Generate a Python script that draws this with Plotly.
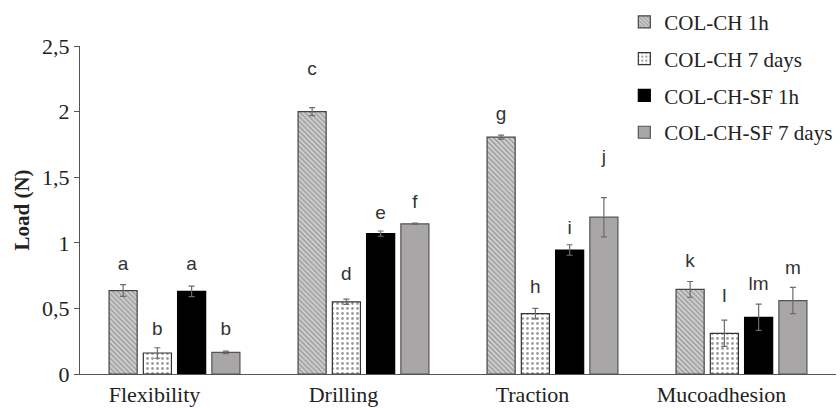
import plotly.graph_objects as go

categories = ["Flexibility", "Drilling", "Traction", "Mucoadhesion"]
series_names = ["COL-CH 1h", "COL-CH 7 days", "COL-CH-SF 1h", "COL-CH-SF 7 days"]

col_ch_1h = [0.636, 2.00, 1.805, 0.645]
col_ch_7d = [0.160, 0.55, 0.460, 0.310]
col_ch_sf_1h = [0.630, 1.07, 0.945, 0.432]
col_ch_sf_7d = [0.165, 1.145, 1.195, 0.560]

err_col_ch_1h = [0.045, 0.03, 0.015, 0.06]
err_col_ch_7d = [0.040, 0.02, 0.040, 0.10]
err_col_ch_sf_1h = [0.040, 0.02, 0.040, 0.10]
err_col_ch_sf_7d = [0.010, 0.005, 0.150, 0.10]

letters_col_ch_1h = ["a", "c", "g", "k"]
letters_col_ch_7d = ["b", "d", "h", "l"]
letters_col_ch_sf_1h = ["a", "e", "i", "lm"]
letters_col_ch_sf_7d = ["b", "f", "j", "m"]

letter_y_col_ch_1h = [0.826, 2.318, 1.97, 0.85]
letter_y_col_ch_7d = [0.333, 0.75, 0.65, 0.586]
letter_y_col_ch_sf_1h = [0.826, 1.22, 1.106, 0.674]
letter_y_col_ch_sf_7d = [0.333, 1.303, 1.644, 0.80]

values = [col_ch_1h, col_ch_7d, col_ch_sf_1h, col_ch_sf_7d]
errors = [err_col_ch_1h, err_col_ch_7d, err_col_ch_sf_1h, err_col_ch_sf_7d]
letters = [letters_col_ch_1h, letters_col_ch_7d, letters_col_ch_sf_1h, letters_col_ch_sf_7d]
letter_ys = [letter_y_col_ch_1h, letter_y_col_ch_7d, letter_y_col_ch_sf_1h, letter_y_col_ch_sf_7d]

SERIF = "Liberation Serif, Times New Roman, serif"

markers = [
    dict(color="white", line=dict(color="#444444", width=1.2),
         pattern=dict(shape="\\", fgcolor="#666666", bgcolor="#d6d6d6", size=3.5, solidity=0.5)),
    dict(color="white", line=dict(color="#333333", width=1.2),
         pattern=dict(shape=".", fgcolor="#3a3a3a", bgcolor="white", size=5, solidity=0.25)),
    dict(color="#000000", line=dict(color="#000000", width=1.2)),
    dict(color="#a8a6a6", line=dict(color="#555555", width=1.2)),
]

fig = go.Figure()
for i in range(4):
    fig.add_trace(go.Bar(
        x=categories, y=values[i], name=series_names[i],
        marker=markers[i], offsetgroup=str(i), legendgroup=str(i),
        error_y=dict(type="data", array=errors[i], color="#6b6b6b", thickness=1.2, width=3),
    ))
for i in range(4):
    fig.add_trace(go.Scatter(
        x=categories, y=letter_ys[i], text=letters[i], mode="text",
        offsetgroup=str(i), showlegend=False, hoverinfo="skip",
        textfont=dict(family="Liberation Sans, Arial, sans-serif", size=19, color="#333333"),
    ))

fig.update_layout(
    width=840, height=408,
    margin=dict(l=80, r=2, t=44, b=34),
    barmode="group", scattermode="group",
    bargap=0.275, bargroupgap=0.18,
    plot_bgcolor="white", paper_bgcolor="white",
    separators=", ",
    font=dict(family=SERIF, size=22, color="#222222"),
    legend=dict(
        x=0.72, y=1.135, xanchor="left", yanchor="top",
        font=dict(family=SERIF, size=21, color="#222222"),
        tracegroupgap=6.5, itemwidth=30, bgcolor="rgba(0,0,0,0)",
    ),
    showlegend=True,
)
fig.update_xaxes(
    showline=True, linecolor="#555555", linewidth=1.2, ticks="", showgrid=False,
    tickfont=dict(family=SERIF, size=22, color="#222222"),
    ticklabelshift=-20, ticklabelstandoff=0,
)
fig.update_yaxes(
    range=[0, 2.5], dtick=0.5, showline=True, linecolor="#555555", linewidth=1.2,
    ticks="outside", ticklen=5, tickcolor="#555555", showgrid=False, zeroline=False,
    tickfont=dict(family=SERIF, size=22, color="#222222"),
    title=dict(text="<b>Load (N)</b>", standoff=6,
               font=dict(family=SERIF, size=21, color="#222222")),
)

fig.write_html("out.html")
